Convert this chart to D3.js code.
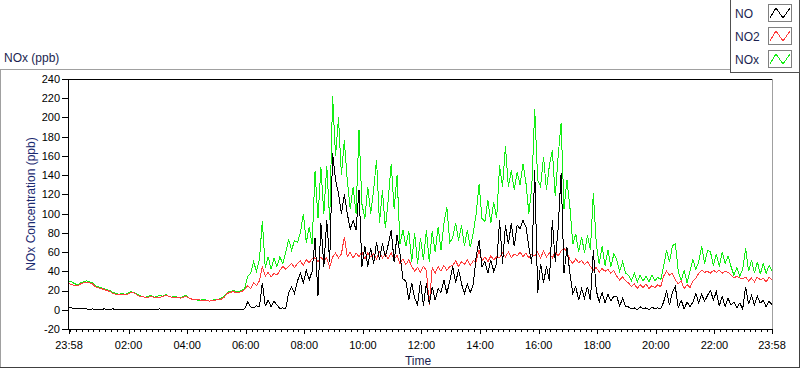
<!DOCTYPE html>
<html>
<head>
<meta charset="utf-8">
<script src="https://cdn.jsdelivr.net/npm/d3@7/dist/d3.min.js"></script>
<style>
    body { margin: 0; background: #fff; }
    text { font-family: "Liberation Sans", Arial, sans-serif; }
</style>
</head>
<body>
<div id="chart"></div>
<script>
// samples every 6 minutes, from 23:58 to 23:58 next day
var stepMinutes = 6
var seriesNames = ['NO', 'NO2', 'NOx']
var seriesColors = ['#000000', '#ff3c3c', '#14ee14']
var yTicks = [-20, 0, 20, 40, 60, 80, 100, 120, 140, 160, 180, 200, 220, 240]

var noValues = [
    2, 2, 1, 1, 1, 1, 1, 0, 1, 0,
    0, 0, 1, 0, 0, 1, 0, 0, 0, 0,
    0, 0, 0, 0, 0, 0, 0, 0, 0, 0,
    0, 1, 0, 0, 0, 0, 0, 0, 0, 0,
    0, 0, 0, 0, 0, 0, 0, 0, 0, 0,
    0, 0, 0, 0, 0, 0, 0, 0, 0, 0,
    1, 8, 3, 2, 4, 3, 28, 4, 10, 3,
    9, 5, 1, 2, 1, 18, 24, 17, 30, 38,
    28, 41, 31, 40, 75, 14, 90, 45, 93, 50,
    163, 135, 121, 100, 120, 100, 84, 93, 83, 125,
    45, 66, 45, 64, 48, 70, 52, 69, 55, 68,
    83, 50, 78, 58, 32, 30, 10, 28, 12, 5,
    30, 4, 28, 6, 24, 10, 22, 18, 31, 17,
    30, 45, 28, 42, 27, 17, 27, 18, 26, 55,
    72, 45, 50, 38, 52, 40, 48, 93, 48, 88,
    68, 90, 66, 88, 84, 93, 86, 65, 48, 145,
    17, 48, 28, 45, 30, 93, 50, 85, 142, 38,
    65, 38, 17, 24, 10, 22, 12, 24, 10, 62,
    20, 8, 18, 7, 16, 9, 14, 14, 4, 12,
    3, 3, 1, 2, 0, 3, 1, 2, 0, 3,
    1, 2, 1, 8, 20, 5, 18, 24, 2, 10,
    1, 8, 3, 8, 17, 7, 16, 9, 15, 20,
    10, 19, 4, 14, 3, 12, 5, 8, 2, 7,
    1, 24, 6, 15, 5, 14, 7, 10, 3, 9,
    5
]

var no2Values = [
    27, 26, 25, 25, 27, 28, 28, 28, 27, 24,
    23, 22, 21, 20, 19, 17, 16, 16, 16, 16,
    16, 18, 18, 16, 14, 14, 13, 13, 14, 13,
    13, 13, 14, 15, 14, 13, 13, 13, 12, 13,
    14, 12, 11, 11, 11, 10, 10, 10, 9, 10,
    10, 11, 11, 13, 17, 18, 19, 18, 18, 19,
    21, 25, 22, 28, 25, 30, 45, 35, 39, 34,
    38, 36, 41, 45, 42, 45, 48, 44, 48, 51,
    46, 52, 49, 53, 54, 50, 55, 51, 54, 44,
    55, 59, 54, 58, 76, 55, 60, 54, 59, 55,
    60, 53, 59, 55, 58, 53, 60, 54, 58, 53,
    59, 52, 57, 48, 53, 47, 52, 45, 40, 44,
    39, 45, 41, 5, 44, 38, 45, 40, 46, 41,
    45, 46, 51, 45, 50, 47, 52, 46, 51, 50,
    62, 51, 55, 50, 56, 52, 55, 54, 59, 55,
    60, 54, 58, 56, 60, 55, 59, 54, 58, 56,
    60, 54, 61, 55, 59, 54, 60, 56, 61, 64,
    60, 52, 48, 53, 49, 51, 47, 50, 45, 41,
    44, 39, 43, 40, 42, 38, 41, 35, 31, 34,
    30, 28, 24, 27, 22, 26, 23, 27, 22, 25,
    23, 26, 24, 35, 40, 36, 38, 31, 27, 30,
    22, 26, 23, 30, 33, 38, 41, 39, 40, 38,
    41, 39, 41, 38, 40, 39, 36, 33, 35, 33,
    32, 34, 30, 33, 29, 34, 31, 33, 29, 34,
    31
]

var noxValues = [
    30, 29, 27, 26, 28, 29, 30, 29, 28, 25,
    24, 23, 22, 21, 20, 18, 17, 16, 17, 16,
    17, 19, 18, 17, 15, 14, 13, 14, 15, 13,
    14, 15, 14, 16, 14, 13, 14, 13, 12, 14,
    15, 12, 11, 11, 10, 10, 11, 10, 9, 10,
    11, 11, 12, 14, 18, 19, 20, 19, 19, 20,
    22, 35, 38, 50, 40, 52, 92, 44, 55, 42,
    54, 45, 55, 48, 60, 73, 62, 72, 70, 80,
    100, 70, 86, 68, 144, 95, 148, 100, 150, 93,
    222, 160, 200, 140, 176, 135, 105, 128, 100, 187,
    110, 95, 128, 100, 125, 156, 90, 124, 85, 115,
    152, 105, 140, 68, 83, 66, 82, 50, 80, 48,
    75, 52, 83, 50, 82, 60, 86, 62, 90, 107,
    70, 75, 90, 72, 88, 66, 83, 65, 80, 100,
    131, 95, 92, 114, 90, 112, 95, 150, 128, 170,
    128, 145, 125, 143, 130, 152, 132, 100, 128, 209,
    135, 128, 159, 125, 150, 166, 118, 160, 194, 105,
    135, 107, 68, 79, 60, 76, 59, 78, 62, 121,
    69, 48, 66, 46, 62, 45, 58, 52, 40, 50,
    38, 36, 30, 38, 29, 36, 30, 35, 29, 36,
    30, 34, 31, 45, 62, 50, 66, 69, 40, 30,
    41, 28, 40, 52, 42, 50, 66, 48, 62, 60,
    46, 58, 45, 60, 48, 56, 45, 36, 44, 35,
    42, 64, 40, 52, 38, 50, 37, 48, 38, 46,
    40
]

var width = 800, height = 369
var plot = { left: 69, right: 772, top: 79, bottom: 329 }

var svg = d3.select("#chart")
    .append("svg")
    .attr("width", width)
    .attr("height", height)

var start = new Date(2000, 0, 1, 23, 58)
var end = new Date(2000, 0, 2, 23, 58)
var times = noValues.map((d, i) => d3.timeMinute.offset(start, i * stepMinutes))

var x = d3.scaleTime()
    .domain([start, end])
    .range([plot.left, plot.right])

var y = d3.scaleLinear()
    .domain([-20, 240])
    .range([plot.bottom, plot.top])

// outer frame
svg.append("line").attr("x1", 0).attr("x2", 731).attr("y1", 69.5).attr("y2", 69.5).style("stroke", "#a0a0a0")
svg.append("line").attr("x1", 0.5).attr("x2", 0.5).attr("y1", 69).attr("y2", 368).style("stroke", "#a0a0a0")
svg.append("line").attr("x1", 0).attr("x2", 800).attr("y1", 367.5).attr("y2", 367.5).style("stroke", "#404040")
svg.append("line").attr("x1", 799.5).attr("x2", 799.5).attr("y1", 72).attr("y2", 368).style("stroke", "#404040")

svg.append("text")
    .attr("x", 4)
    .attr("y", 62)
    .style("font-size", "12px")
    .style("fill", "#1b1f4f")
    .text("NOx (ppb)")

// plot box
svg.append("clipPath").attr("id", "plotClip")
    .append("rect")
    .attr("x", plot.left - 1).attr("y", plot.top)
    .attr("width", plot.right - plot.left + 1).attr("height", plot.bottom - plot.top)

// lines, NOx underneath, NO on top
var series = [noxValues, no2Values, noValues]
var colors = [seriesColors[2], seriesColors[1], seriesColors[0]]
var line = d3.line()
    .x((d, i) => x(times[i]))
    .y(d => y(d))

svg.append("g")
    .attr("clip-path", "url(#plotClip)")
    .selectAll("path")
    .data(series)
    .enter()
    .append("path")
    .attr("d", d => line(d))
    .style("fill", "none")
    .style("stroke", (d, i) => colors[i])
    .style("stroke-width", 1)
    .style("shape-rendering", "crispEdges")

// box edges
svg.append("line").attr("x1", plot.left - 1).attr("x2", plot.right + 1).attr("y1", plot.top + 0.5).attr("y2", plot.top + 0.5).style("stroke", "#000")
svg.append("line").attr("x1", plot.left - 0.5).attr("x2", plot.left - 0.5).attr("y1", plot.top).attr("y2", plot.bottom + 1).style("stroke", "#000")
svg.append("line").attr("x1", plot.left - 1).attr("x2", plot.right + 1).attr("y1", plot.bottom + 0.5).attr("y2", plot.bottom + 0.5).style("stroke", "#000")
svg.append("line").attr("x1", plot.right + 0.5).attr("x2", plot.right + 0.5).attr("y1", plot.top).attr("y2", plot.bottom).style("stroke", "#a0a0a0")

// y axis
var yAxis = svg.append("g")
yAxis.selectAll("line")
    .data(yTicks)
    .enter()
    .append("line")
    .attr("x1", plot.left - 7)
    .attr("x2", plot.left - 1)
    .attr("y1", d => Math.round(y(d)) + 0.5)
    .attr("y2", d => Math.round(y(d)) + 0.5)
    .style("stroke", "#000")
yAxis.selectAll("text")
    .data(yTicks)
    .enter()
    .append("text")
    .attr("x", plot.left - 9)
    .attr("y", d => y(d))
    .attr("dy", "0.36em")
    .attr("text-anchor", "end")
    .style("font-size", "11px")
    .style("fill", "#000")
    .text(d => d)

svg.append("text")
    .attr("text-anchor", "middle")
    .attr("transform", "translate(35," + ((plot.top + plot.bottom) / 2) + ") rotate(-90)")
    .style("font-size", "12px")
    .style("fill", "#1b2a70")
    .text("NOx Concentration (ppb)")

// x axis: minor ticks every 12 min, majors every 2 h plus both ends
var minorTicks = d3.timeMinute.every(12).range(start, end)
var evenHours = d3.timeHour.every(2).range(d3.timeMinute.offset(start, 1), end)
    .filter(d => (d - start) > 3600 * 1000)
var majorTicks = [start].concat(evenHours).concat([end])
var xAxis = svg.append("g")
xAxis.selectAll(".minor")
    .data(minorTicks)
    .enter()
    .append("line")
    .attr("x1", d => Math.round(x(d)) + 0.5)
    .attr("x2", d => Math.round(x(d)) + 0.5)
    .attr("y1", plot.bottom + 1)
    .attr("y2", plot.bottom + 3)
    .style("stroke", "#000")
xAxis.selectAll(".major")
    .data(majorTicks)
    .enter()
    .append("line")
    .attr("x1", d => Math.round(x(d)) + 0.5)
    .attr("x2", d => Math.round(x(d)) + 0.5)
    .attr("y1", plot.bottom + 1)
    .attr("y2", plot.bottom + 5)
    .style("stroke", "#000")
var fmt = d3.timeFormat("%H:%M")
xAxis.selectAll("text")
    .data(majorTicks)
    .enter()
    .append("text")
    .attr("x", d => x(d))
    .attr("y", plot.bottom + 20)
    .attr("text-anchor", "middle")
    .style("font-size", "11px")
    .style("fill", "#000")
    .text(d => fmt(d))

svg.append("text")
    .attr("x", 418)
    .attr("y", 365)
    .attr("text-anchor", "middle")
    .style("font-size", "12px")
    .style("fill", "#1b1f4f")
    .text("Time")

// legend
var legend = svg.append("g")
legend.append("rect")
    .attr("x", 730.5).attr("y", -1)
    .attr("width", 69).attr("height", 73.5)
    .style("fill", "#fff")
    .style("stroke", "#505050")
var items = legend.selectAll(".item")
    .data(seriesNames)
    .enter()
    .append("g")
    .attr("transform", (d, i) => "translate(0," + (i * 23) + ")")
items.append("text")
    .attr("x", 735)
    .attr("y", 17.5)
    .style("font-size", "12px")
    .style("fill", "#1b1f4f")
    .text(d => d)
items.append("rect")
    .attr("x", 768.5).attr("y", 4.5)
    .attr("width", 23).attr("height", 17)
    .style("fill", "#fff")
    .style("stroke", "#808080")
items.append("path")
    .attr("d", "M770,18L776,8L783,18L790,8")
    .style("fill", "none")
    .style("stroke", (d, i) => seriesColors[i])
    .style("shape-rendering", "crispEdges")
</script>
</body>
</html>
